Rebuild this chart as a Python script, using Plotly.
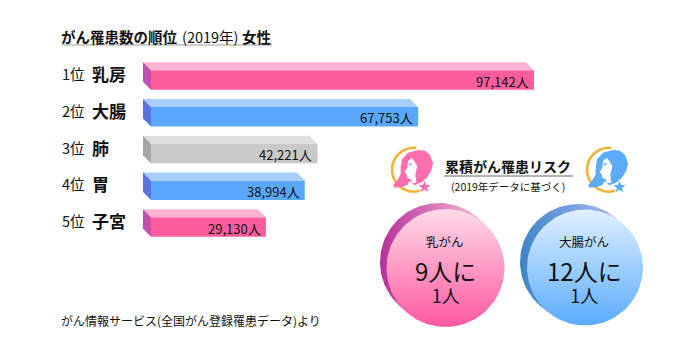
import numpy as np
import plotly.graph_objects as go

W, H = 688, 355
FONT = "Noto Sans CJK JP"

# data
rank_labels = ["1位", "2位", "3位", "4位", "5位"]
sites = ["乳房", "大腸", "肺", "胃", "子宮"]
cases = [97142, 67753, 42221, 38994, 29130]
case_labels = ["97,142人", "67,753人", "42,221人", "38,994人", "29,130人"]
risk_sites = ["乳がん", "大腸がん"]
risk_main = ["9人に", "12人に"]
risk_sub = ["1人", "1人"]

# styles
front = ["#ff5c9e", "#58a8ff", "#c9c9c9", "#58a8ff", "#ff5c9e"]
top = ["#ffb2d1", "#a6cdfb", "#dedede", "#a6cdfb", "#ffb2d1"]
side = ["#c24eae", "#5a73e3", "#a6a6a6", "#5a73e3", "#c24eae"]

PX_PER_CASE = 0.003943
X0, ROW0, ROW_H, BAR_H, DEPTH = 151, 80, 36.75, 19.5, 8
dx = DEPTH / PX_PER_CASE
dy = DEPTH / ROW_H
half = BAR_H / ROW_H / 2

fig = go.Figure()


def px(xs, ys, **kw):
    fig.add_trace(go.Scatter(x=xs, y=ys, xaxis="x2", yaxis="y2", mode="lines",
                             hoverinfo="skip", showlegend=False, **kw))


def poly(xs, ys, color, **kw):
    fig.add_trace(go.Scatter(x=xs, y=ys, xaxis="x", yaxis="y", mode="lines", fill="toself",
                             fillcolor=color, line=dict(width=0), hoverinfo="skip",
                             showlegend=False, **kw))


fig.add_trace(go.Bar(x=cases, y=list(range(5)), orientation="h", width=half * 2, base=0,
                     marker=dict(color=front, line=dict(width=0)), hoverinfo="skip",
                     showlegend=False))
for i, v in enumerate(cases):
    poly([-dx, 0, v, v - dx, -dx],
         [i - half - dy, i - half, i - half, i - half - dy, i - half - dy], top[i])
    poly([-dx, 0, 0, -dx, -dx],
         [i - half - dy, i - half, i + half, i + half - dy, i - half - dy], side[i])


def circle(cx, cy, r, start=0.0, stop=360.0, n=180):
    t = np.radians(np.linspace(start, stop, n))
    return (cx + r * np.cos(t)).tolist(), (cy + r * np.sin(t)).tolist()


def grad_circle(cx, cy, r, kind, c0, c1):
    xs, ys = circle(cx, cy, r)
    px(xs, ys, line=dict(width=0), fill="toself",
       fillgradient=dict(type=kind, colorscale=[[0, c0], [1, c1]]))


# risk circles
grad_circle(439, 262, 59, "horizontal", "#b52f98", "#ffd6e2")
grad_circle(445.5, 268, 59, "vertical", "#ff58a0", "#ffdbe8")
grad_circle(578, 262, 58, "horizontal", "#3c84c6", "#c6c4ff")
grad_circle(585, 267.5, 58, "vertical", "#5aacff", "#e0f0ff")

# logos
HAIR = [(159, 68), (150, 45), (135, 32), (114, 30), (84, 38), (66, 58), (62, 83), (62, 103), (54, 118),
        (39, 136), (44, 143), (69, 140), (82, 135), (89, 123), (96, 130), (104, 136), (134, 123), (154, 93)]
FACE = [(96, 53), (84, 63), (82, 83), (74, 96), (80, 103), (82, 113), (92, 118), (96, 130), (109, 128),
        (106, 103), (112, 78)]


def logo(ox, oy, color):
    xs, ys = circle(ox + 34, oy + 29.7, 22, 71, 276, 60)
    px(xs, ys, line=dict(color="#f2b233", width=2.5))
    f = lambda pts, k: [(ox if k == 0 else oy) + p[k] / 3 for p in pts + pts[:1]]
    px(f(HAIR, 0), f(HAIR, 1), line=dict(width=0), fill="toself", fillcolor=color)
    px(f(FACE, 0), f(FACE, 1), line=dict(width=0), fill="toself", fillcolor="#ffffff")
    px([ox + 29, ox + 31.5], [oy + 24.8, oy + 23.8], line=dict(color=color, width=1.5))
    t = np.radians(np.arange(0, 361, 36) - 90)
    rr = np.where(np.arange(len(t)) % 2 == 0, 7.5, 3.2)
    px((ox + 44.5 + rr * np.cos(t)).tolist(), (oy + 47 + rr * np.sin(t)).tolist(),
       line=dict(color="#ffffff", width=1), fill="toself", fillcolor=color)


logo(380, 140, "#ff6fae")
logo(575, 140, "#5cabf8")

# rules
px([62, 272], [45, 45], line=dict(color="#9a9a9a", width=1))
px([444, 573], [176, 176], line=dict(color="#666666", width=1))

anns = []


def text(x, y, s, size, anchor="left", color="#111111"):
    anns.append(dict(x=x, y=y, xref="x2", yref="y2", text=s, showarrow=False, xanchor=anchor,
                     yanchor="middle", font=dict(family=FONT, size=size, color=color),
                     borderpad=0, borderwidth=0))


text(61, 36, "<b>がん罹患数の順位</b>", 14.5)
text(182, 36, "(2019年)", 14.5)
text(242, 36, "<b>女性</b>", 14.5)
for i in range(5):
    anns.append(dict(x=0, y=i, xref="x", yref="y", text=rank_labels[i], showarrow=False, xanchor="left",
                     yshift=6.5, xshift=-91, font=dict(family=FONT, size=14.5, color="#111111")))
    anns.append(dict(x=0, y=i, xref="x", yref="y", text="<b>%s</b>" % sites[i], showarrow=False,
                     xanchor="left", yshift=6.5, xshift=-61, font=dict(family=FONT, size=17, color="#111111")))
    anns.append(dict(x=cases[i], y=i, xref="x", yref="y", text=case_labels[i], showarrow=False,
                     xanchor="right", yshift=-1, xshift=-3, font=dict(family=FONT, size=13, color="#111111")))

text(508, 166, "<b>累積がん罹患リスク</b>", 14, "center")
text(508, 186, "(2019年データに基づく)", 10.5, "center")
for cx, a, b, c in zip([445, 584], risk_sites, risk_main, risk_sub):
    text(cx, 241, a, 12.5, "center")
    text(cx, 280, '<span style="font-size:24px">%s</span><br><span style="font-size:18px">%s</span>' % (b, c),
         17, "center")
text(61, 320, "がん情報サービス(全国がん登録罹患データ)より", 12)

fig.update_layout(
    width=W, height=H, margin=dict(l=0, r=0, t=0, b=0, pad=0),
    paper_bgcolor="#ffffff", plot_bgcolor="rgba(0,0,0,0)", showlegend=False, annotations=anns,
    font=dict(family=FONT),
    xaxis=dict(domain=[0, 1], range=[-X0 / PX_PER_CASE, (W - X0) / PX_PER_CASE], visible=False, fixedrange=True),
    yaxis=dict(domain=[0, 1], range=[(H - ROW0) / ROW_H, -ROW0 / ROW_H], visible=False, fixedrange=True),
    xaxis2=dict(domain=[0, 1], range=[0, W], visible=False, overlaying="x", fixedrange=True),
    yaxis2=dict(domain=[0, 1], range=[H, 0], visible=False, overlaying="y", fixedrange=True),
)

fig.write_html("out.html", config={"displayModeBar": False},
               post_script="document.body.style.margin='0';document.body.style.overflow='hidden';")
